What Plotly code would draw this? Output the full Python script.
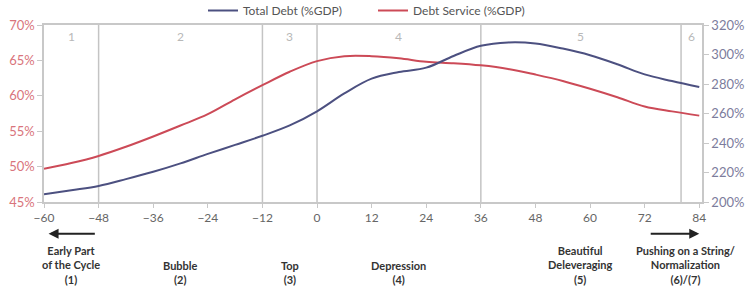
import plotly.graph_objects as go

months = [-60, -54, -48, -42, -36, -30, -24, -18, -12, -6, 0, 6, 12, 18, 24, 30, 36, 42, 48, 54, 60, 66, 72, 78, 84]
total_debt = [205.2, 208.0, 210.9, 215.5, 220.5, 226.2, 232.6, 238.7, 244.9, 251.9, 261.5, 273.6, 283.6, 288.1, 291.1,
              299.0, 305.9, 308.2, 307.5, 304.0, 299.5, 293.4, 286.5, 282.0, 277.9]
debt_service = [49.7, 50.5, 51.5, 52.8, 54.25, 55.8, 57.4, 59.5, 61.5, 63.4, 64.9, 65.6, 65.6, 65.3, 64.8,
                64.6, 64.3, 63.8, 63.0, 62.1, 61.0, 59.8, 58.5, 57.8, 57.2]

phase_bounds = [-48, -12, 0, 36, 80]
phase_nums = ["1", "2", "3", "4", "5", "6"]
phase_num_x = [-54, -30, -6, 18, 58, 82.3]
phase_names = ["Early Part<br>of the Cycle<br>(1)", "Bubble<br>(2)", "Top<br>(3)", "Depression<br>(4)",
               "Beautiful<br>Deleveraging<br>(5)", "Pushing on a String/<br>Normalization<br>(6)/(7)"]
phase_name_x = [-54, -30, -6, 18, 58, 81]

xticks = [-60, -48, -36, -24, -12, 0, 12, 24, 36, 48, 60, 72, 84]
left_ticks = [45, 50, 55, 60, 65, 70]
right_ticks = [200, 220, 240, 260, 280, 300, 320]

BLUE = "#4c5080"
RED = "#cc4a57"
FONT = "Lato"

fig = go.Figure()
fig.add_trace(go.Scatter(x=months, y=total_debt, name="Total Debt (%GDP)", mode="lines",
                         line=dict(color=BLUE, width=2, shape="spline"), yaxis="y2"))
fig.add_trace(go.Scatter(x=months, y=debt_service, name="Debt Service (%GDP)", mode="lines",
                         line=dict(color=RED, width=2, shape="spline"), yaxis="y"))

for b in phase_bounds:
    fig.add_shape(type="line", x0=b, x1=b, y0=0, y1=1, xref="x", yref="paper",
                  line=dict(color="#c4c4c4", width=1.5), layer="below")

for t, xv in zip(phase_nums, phase_num_x):
    fig.add_annotation(x=xv, y=0.99, xref="x", yref="paper", text=t, showarrow=False,
                       yanchor="top", font=dict(family=FONT, size=12, color="#b8b8b8"))

for t, xv in zip(phase_names, phase_name_x):
    fig.add_annotation(x=xv, y=-0.487, xref="x", yref="paper", text="<b>" + t + "</b>", showarrow=False,
                       yanchor="bottom", font=dict(family=FONT, size=11, color="#333333"))

# arrows
fig.add_annotation(x=-59, y=-0.18, ax=-48.5, ay=0, xref="x", yref="paper", axref="x", ayref="pixel",
                   text="", showarrow=True, arrowhead=2, arrowsize=1, arrowwidth=2, arrowcolor="#222222")
fig.add_annotation(x=84, y=-0.18, ax=73, ay=0, xref="x", yref="paper", axref="x", ayref="pixel",
                   text="", showarrow=True, arrowhead=2, arrowsize=1, arrowwidth=2, arrowcolor="#222222")

fig.update_layout(
    width=750, height=290,
    margin=dict(l=44, r=48, t=25, b=88, autoexpand=False),
    paper_bgcolor="white", plot_bgcolor="white",
    font=dict(family=FONT, size=12, color="#555555"),
    showlegend=True,
    legend=dict(orientation="h", x=0.5, xanchor="center", y=1.0, yanchor="bottom",
                font=dict(family=FONT, size=12, color="#555555"), itemwidth=30,
                entrywidth=125, entrywidthmode="pixels",
                bgcolor="rgba(0,0,0,0)"),
    xaxis=dict(range=[-60, 84.6], tickvals=xticks, showgrid=False, zeroline=False, automargin=False,
               showline=True, linecolor="#c8c8c8", linewidth=1.5, mirror=True,
               ticks="outside", ticklen=4, tickcolor="#c8c8c8",
               tickfont=dict(family=FONT, size=12, color="#666666")),
    yaxis=dict(range=[45, 70], tickvals=left_ticks, ticktext=[f"{v}%" for v in left_ticks],
               showgrid=False, zeroline=False, showline=True, linecolor="#c8c8c8", linewidth=1.5,
               ticks="outside", ticklen=5, tickcolor="#c8c8c8", automargin=False,
               tickfont=dict(family=FONT, size=13, color="#d9747c")),
    yaxis2=dict(range=[200, 320], tickvals=right_ticks, ticktext=[f"{v}%" for v in right_ticks],
                overlaying="y", side="right", automargin=False,
                showgrid=False, zeroline=False, showline=True, linecolor="#c8c8c8", linewidth=1.5,
                ticks="outside", ticklen=5, tickcolor="#c8c8c8",
                tickfont=dict(family=FONT, size=13, color="#7c7c9c")),
)

fig.write_html("out.html")
